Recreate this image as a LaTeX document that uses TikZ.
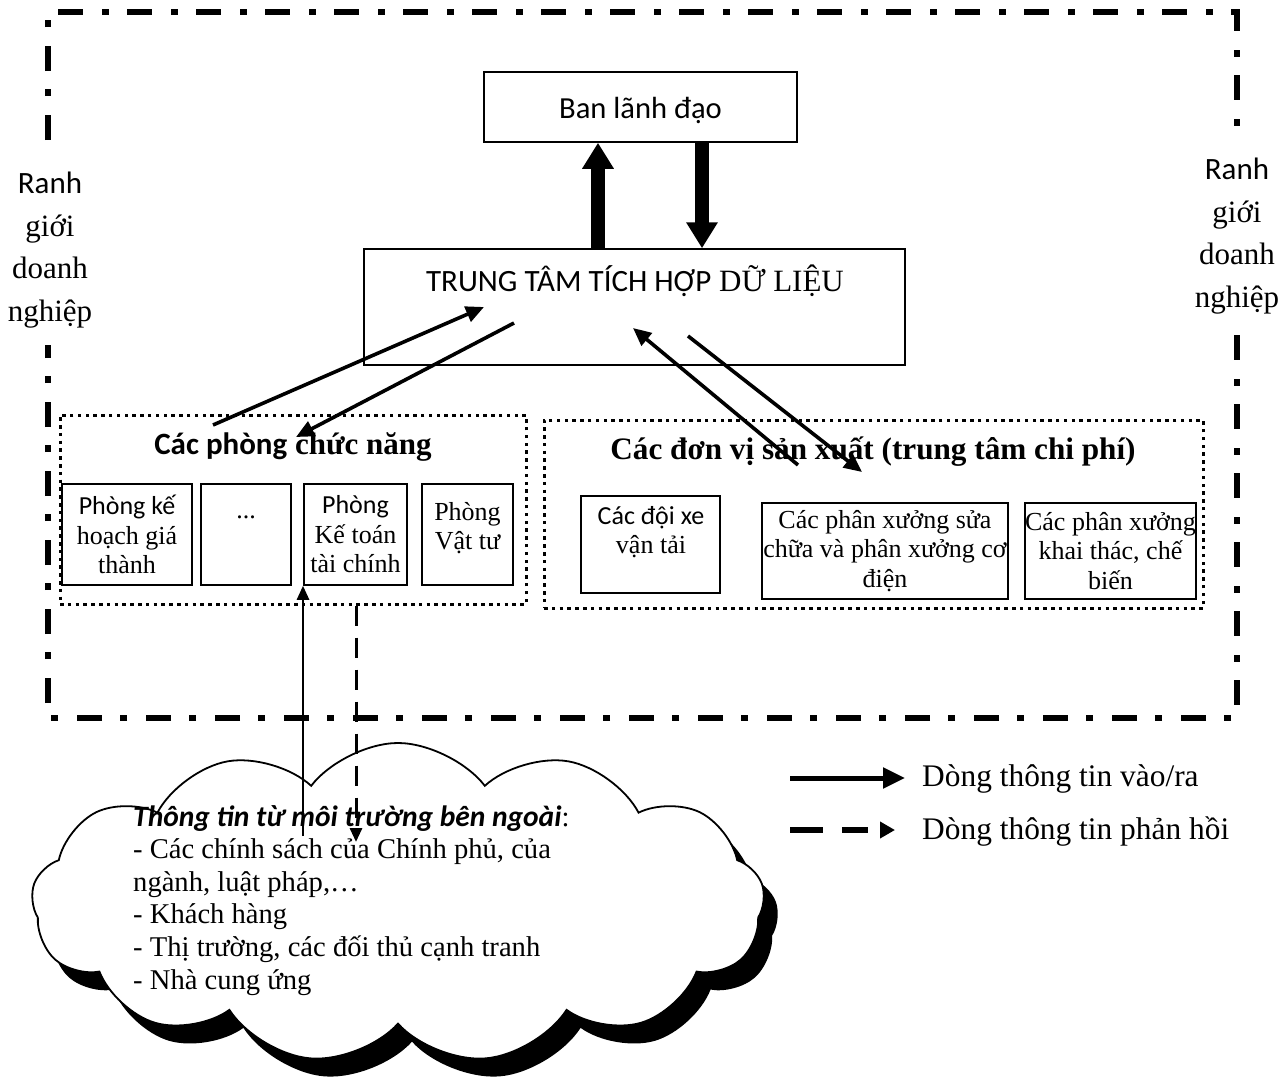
\documentclass[tikz,border=0pt]{standalone}
\usepackage{fontspec}
\setmainfont{Liberation Serif}
\newfontfamily\carl{Carlito}
\usetikzlibrary{arrows.meta,shapes.symbols,shadows}
\begin{document}
\begin{tikzpicture}[x=1pt,y=-1pt,
  box/.style={draw, line width=1.5pt, inner sep=0pt, align=center},
  grp/.style={draw, line width=3pt, dash pattern=on 3.5pt off 4.3pt, inner sep=0pt},
  border/.style={line width=6pt, dash pattern=on 25pt off 19pt on 7pt off 18pt},
  arr/.style={line width=3.6pt, -{Triangle[length=18pt,width=16pt]}},
  thinarr/.style={line width=2.5pt, -{Triangle[length=14pt,width=12pt]}},
  dasharr/.style={line width=3pt, dash pattern=on 20pt off 12pt, -{Triangle[length=14pt,width=12pt]}},
  bigarr/.style={line width=14pt, -{Triangle[length=26pt,width=30pt]}},
  legarr/.style={line width=5pt, -{Triangle[length=22pt,width=20pt]}},
  legdash/.style={line width=6pt, dash pattern=on 33pt off 19pt on 26pt off 12pt, -{Triangle[length=15pt,width=16pt]}},
  txt/.style={inner sep=0pt, align=center},
  bigfont/.style={font=\fontsize{31}{42.5}\selectfont},
  boxfont/.style={font=\fontsize{26}{29.5}\selectfont},
]
\useasboundingbox (0,0) rectangle (1286,1085);

% outer boundary
\coordinate (bl1) at (48,140);
\coordinate (tl) at (48,12);
\coordinate (tr) at (1237,12);
\coordinate (tr1) at (1237,135);
\draw[border] (bl1) -- (tl) -- (tr) -- (tr1);
\coordinate (tr2) at (1237,335);
\coordinate (br) at (1237,718);
\coordinate (bl) at (48,718);
\coordinate (bl2) at (48,345);
\draw[border] (tr2) -- (br) -- (bl) -- (bl2);

\node[txt, bigfont] (rl) at (50,250) {{\carl Ranh}\\giới\\doanh\\nghiệp};
\node[txt, bigfont] (rr) at (1237,236) {{\carl Ranh}\\giới\\doanh\\nghiệp};

% top boxes
\node[box, minimum width=313pt, minimum height=70pt] (ban) at (640.5,107) {};
\node[txt, font=\carl\fontsize{30.6}{36}\selectfont] (bantxt) at (640.5,110) {Ban lãnh đạo};
\node[box, minimum width=541pt, minimum height=116pt] (trung) at (634.5,307) {};
\node[txt, font=\fontsize{31}{36}\selectfont] (trungtxt) at (635,281) {{\carl TRUNG TÂM TÍCH HỢP} DỮ LIỆU};

\coordinate (upx) at (598,0);
\coordinate (dnx) at (702,0);
\draw[bigarr] (trung.north -| upx) -- (ban.south -| upx);
\draw[bigarr] (ban.south -| dnx) -- (trung.north -| dnx);

% groups
\node[grp, minimum width=466pt, minimum height=189pt] (phg) at (293,509.5) {};
\node[txt, font=\fontsize{31}{36}\selectfont\bfseries] (phgt) at (293,447) {{\carl Các phòng} chức năng};
\node[grp, minimum width=659pt, minimum height=188pt] (dvg) at (873.5,514) {};
\node[txt, font=\fontsize{31.2}{36}\selectfont\bfseries] (dvgt) at (873,452) {Các đơn vị sản xuất (trung tâm chi phí)};

% left boxes
\node[box, boxfont, minimum width=130pt, minimum height=101pt] (b1) at (127,534.5) {{\carl Phòng kế}\\hoạch giá\\thành};
\node[box, minimum width=90pt, minimum height=101pt] (b2) at (246,534.5) {};
\node[txt, boxfont] (b2t) at (246,517) {...};
\node[box, boxfont, minimum width=103pt, minimum height=101pt] (b3) at (355.5,534.5) {{\carl Phòng}\\Kế toán\\tài chính};
\node[box, minimum width=91pt, minimum height=101pt] (b4) at (467.5,534.5) {};
\node[txt, boxfont] (b4t) at (467.5,528) {Phòng\\Vật tư};

% right boxes
\node[box, minimum width=139pt, minimum height=97pt] (ba) at (650.5,544.5) {};
\node[txt, boxfont] (bat) at (651,532) {{\carl Các đội xe}\\vận tải};
\node[box, boxfont, minimum width=246pt, minimum height=96pt] (bb) at (885,551) {Các phân xưởng sửa\\chữa và phân xưởng cơ\\điện};
\node[box, boxfont, minimum width=169pt, minimum height=96pt] (bc) at (1110.5,551) {Các phân xưởng\\khai thác, chế\\biến};

% diagonal arrows
\coordinate (p1s) at (213,425);
\coordinate (p1e) at (484,307);
\coordinate (p2s) at (514,323);
\coordinate (p2e) at (296,437);
\coordinate (p3s) at (798,465);
\coordinate (p3e) at (633,328);
\coordinate (p4s) at (688,336);
\coordinate (p4e) at (862,472);
\draw[arr] (p1s) -- (p1e);
\draw[arr] (p2s) -- (p2e);
\draw[arr] (p3s) -- (p3e);
\draw[arr] (p4s) -- (p4e);

% cloud
\node[cloud, cloud puffs=13, cloud puff arc=105, aspect=2.3, draw, line width=1.8pt, fill=white,
  minimum width=733pt, minimum height=320pt, inner sep=0pt,
  drop shadow={shadow xshift=14pt, shadow yshift=-18pt, opacity=1, fill=black}] (cloud) at (398,903) {};
\node[anchor=north west, align=left, inner sep=0pt, font=\fontsize{28.6}{32.6}\selectfont] (cloudtxt) at (133,805)
 {{\carl\bfseries\itshape\fontsize{29.5}{32.6}\selectfont Thông tin từ môi trường bên ngoài}:\\
  - Các chính sách của Chính phủ, của\\
  ngành, luật pháp,…\\
  - Khách hàng\\
  - Thị trường, các đối thủ cạnh tranh\\
  - Nhà cung ứng};

% vertical arrows
\coordinate (v1s) at (303,836);
\draw[thinarr] (v1s) -- (v1s |- b3.south);
\coordinate (v2e) at (356,842);
\draw[dasharr] (v2e |- phg.south) -- (v2e);

% legend
\node[anchor=base west, inner sep=0pt, font=\fontsize{31.4}{36}\selectfont] (lg1) at (922,786) {Dòng thông tin vào/ra};
\node[anchor=base west, inner sep=0pt, font=\fontsize{31.4}{36}\selectfont] (lg2) at (922,839) {Dòng thông tin phản hồi};
\coordinate (l1s) at (790,778);
\coordinate (l2s) at (790,830);
\draw[legarr, shorten >=17pt] (l1s) -- (l1s -| lg1.west);
\draw[legdash, shorten >=27pt] (l2s) -- (l2s -| lg2.west);
\end{tikzpicture}
\end{document}
